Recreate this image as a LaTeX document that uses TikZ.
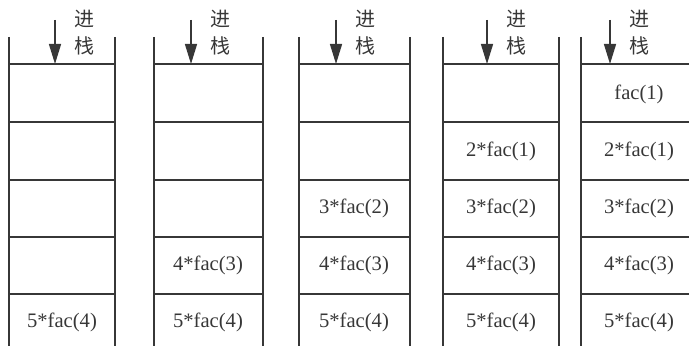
\documentclass[tikz,border=0pt]{standalone}
\usepackage{fontspec}
\setmainfont{Liberation Serif}
\newfontfamily\cjk{Noto Sans CJK SC}
\usetikzlibrary{arrows.meta}
\definecolor{inkgray}{RGB}{55,55,55}

\begin{document}
\begin{tikzpicture}[x=0.5pt, y=-0.5pt,
    wall/.style={line width=0.7pt, draw=inkgray},
    push/.style={-{Triangle[length=10pt, width=6pt]}, line width=0.7pt, draw=inkgray},
    entry/.style={font=\fontsize{10.3}{12}\selectfont, text=inkgray},
    pushlabel/.style={font=\cjk\fontsize{10}{13.5}\selectfont, align=center, text=inkgray}]
  \useasboundingbox (0,0) rectangle (689,346);
  \clip (0,0) rectangle (689,346);

  % Stacks: side walls and cell borders
  \foreach \l/\r in {9/115, 154/263, 299/410, 443/559, 581/697} {
    \draw[wall] (\l,37) -- (\l,350);
    \draw[wall] (\r,37) -- (\r,350);
    \foreach \y in {64,122,180,237,294}
      \draw[wall] (\l,\y) -- (\r,\y);
  }

  % Push arrows
  \foreach \i/\x in {1/55, 2/191, 3/336, 4/487, 5/610} {
    \coordinate (in\i) at (\x,20);
    \coordinate (top\i) at (\x,64);
    \draw[push] (in\i) -- (top\i);
    \node[pushlabel] (lab\i) at (\x+29,33) {进\\栈};
  }

  % Stack 1
  \node[entry] (a5) at (62,322) {5*fac(4)};

  % Stack 2
  \node[entry] (b4) at (208,265) {4*fac(3)};
  \node[entry] (b5) at (208,322) {5*fac(4)};

  % Stack 3
  \node[entry] (c3) at (354,208) {3*fac(2)};
  \node[entry] (c4) at (354,265) {4*fac(3)};
  \node[entry] (c5) at (354,322) {5*fac(4)};

  % Stack 4
  \node[entry] (d2) at (501,151) {2*fac(1)};
  \node[entry] (d3) at (501,208) {3*fac(2)};
  \node[entry] (d4) at (501,265) {4*fac(3)};
  \node[entry] (d5) at (501,322) {5*fac(4)};

  % Stack 5
  \node[entry] (e1) at (639,94) {fac(1)};
  \node[entry] (e2) at (639,151) {2*fac(1)};
  \node[entry] (e3) at (639,208) {3*fac(2)};
  \node[entry] (e4) at (639,265) {4*fac(3)};
  \node[entry] (e5) at (639,322) {5*fac(4)};
\end{tikzpicture}
\end{document}
